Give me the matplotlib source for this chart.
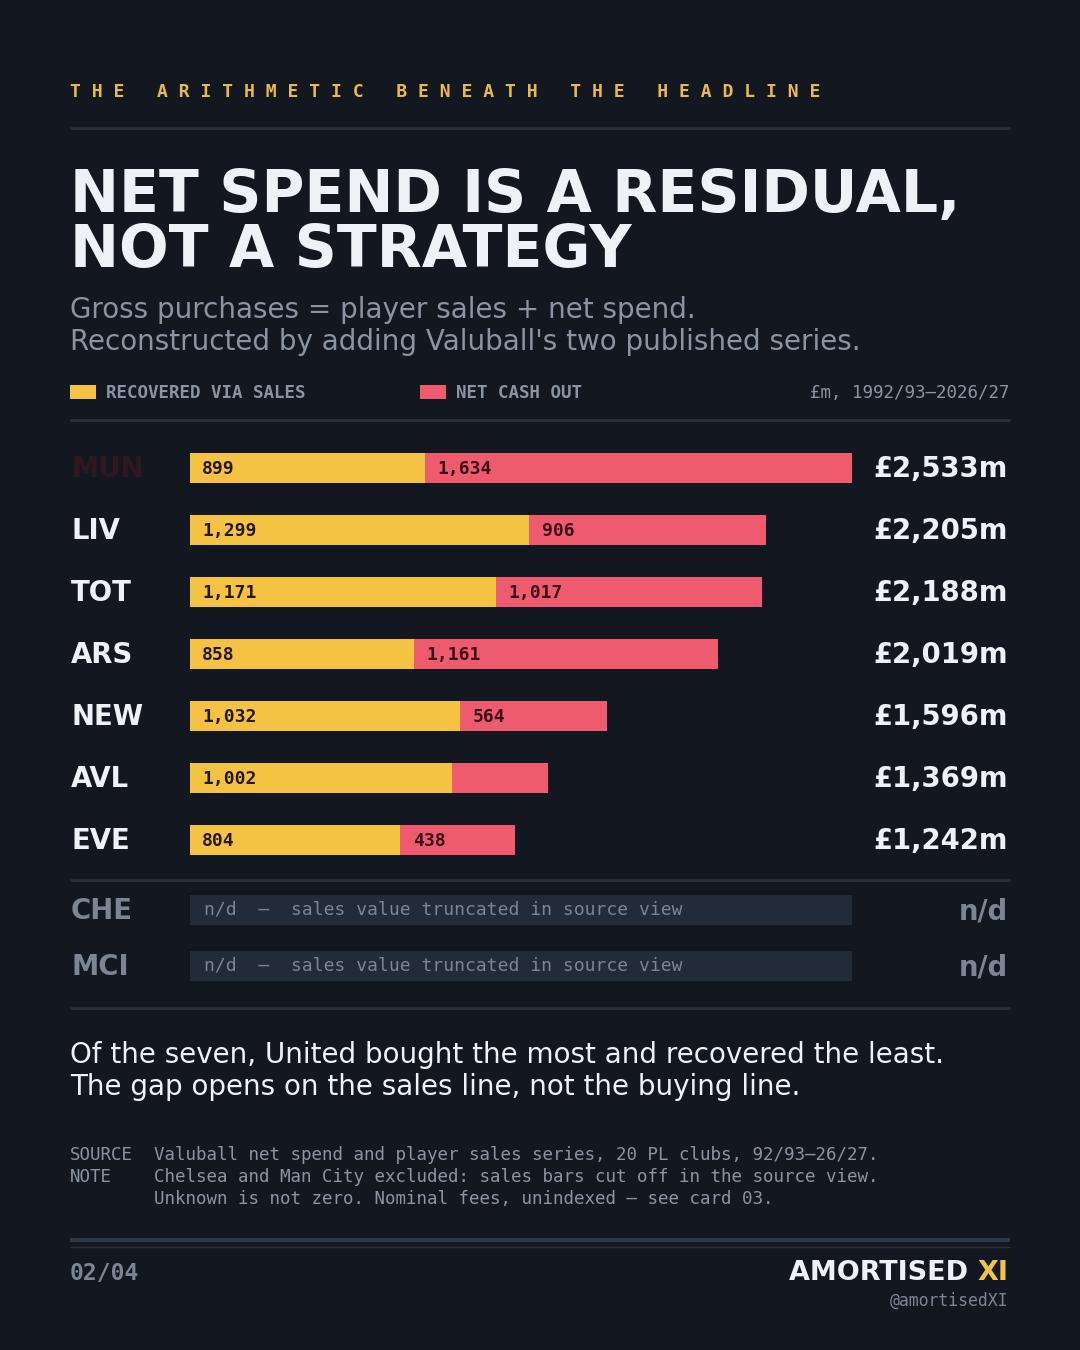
import matplotlib
matplotlib.use("Agg")
import matplotlib.pyplot as plt

# data (£m, 1992/93-2026/27)
clubs = ["MUN", "LIV", "TOT", "ARS", "NEW", "AVL", "EVE"]
sales = [899, 1299, 1171, 858, 1032, 1002, 804]
net_spend = [1634, 906, 1017, 1161, 564, 367, 438]
gross_labels = ["£2,533m", "£2,205m", "£2,188m", "£2,019m", "£1,596m", "£1,369m", "£1,242m"]
nd_clubs = ["CHE", "MCI"]

BG = "#131820"
YELLOW = "#f5c344"
RED = "#ee5a6e"
WHITE = "#eef1f5"
GREY = "#8a94a3"
DIM = "#7b8594"
RULE = "#28313d"
NDBAR = "#222b38"
INK = "#24180f"
MONO = "DejaVu Sans Mono"
SANS = "DejaVu Sans"

fig = plt.figure(figsize=(10.8, 13.5), dpi=100, facecolor=BG)
ax = fig.add_axes([0, 0, 1, 1])
ax.set_xlim(0, 1080)
ax.set_ylim(1350, 0)
ax.axis("off")
ax.set_zorder(2)


def pt(px):
    return px * 72 / 100


# kicker
ax.text(70, 97, " ".join("THE ARITHMETIC BENEATH THE HEADLINE"), family=MONO,
        weight="bold", fontsize=pt(18), color="#e9b94c", va="baseline")
ax.plot([70, 1010], [128, 128], color=RULE, lw=2, solid_capstyle="butt")

# title
ax.text(70, 212, "NET SPEND IS A RESIDUAL,", family=SANS, weight="bold",
        fontsize=pt(58.5), color=WHITE, va="baseline")
ax.text(70, 267, "NOT A STRATEGY", family=SANS, weight="bold",
        fontsize=pt(58.5), color=WHITE, va="baseline")
ax.text(70, 318, "Gross purchases = player sales + net spend.", family=SANS,
        fontsize=pt(27.8), color=GREY, va="baseline")
ax.text(70, 350, "Reconstructed by adding Valuball's two published series.",
        family=SANS, fontsize=pt(27.8), color=GREY, va="baseline")

# legend
ax.add_patch(plt.Rectangle((70, 385), 26, 14, color=YELLOW, lw=0))
ax.text(106, 398, "RECOVERED VIA SALES", family=MONO, weight="bold",
        fontsize=pt(17.5), color=GREY, va="baseline")
ax.add_patch(plt.Rectangle((420, 385), 26, 14, color=RED, lw=0))
ax.text(456, 398, "NET CASH OUT", family=MONO, weight="bold",
        fontsize=pt(17.5), color=GREY, va="baseline")
ax.text(1009, 398, "£m, 1992/93–2026/27", family=MONO, fontsize=pt(17.5),
        color=GREY, va="baseline", ha="right")
ax.plot([70, 1010], [420, 420], color=RULE, lw=2, solid_capstyle="butt")

# bars
row_y = [468 + 62 * i for i in range(len(clubs))]
nd_y = [910, 966]
gross = [s + n for s, n in zip(sales, net_spend)]

bx = fig.add_axes([190 / 1080, 0, (852 - 190) / 1080, 1])
bx.set_xlim(0, max(gross))
bx.set_ylim(1350, 0)
bx.axis("off")
bx.set_zorder(1)

bx.barh(row_y, sales, height=30, color=YELLOW, lw=0)
bx.barh(row_y, net_spend, left=sales, height=30, color=RED, lw=0)
bx.barh(nd_y, [max(gross)] * len(nd_y), height=30, color=NDBAR, lw=0)

for i, club in enumerate(clubs):
    y = row_y[i]
    bx.annotate(f"{sales[i]:,}", (0, y - 1.5), xytext=(pt(12), 0),
                textcoords="offset points", family=MONO, weight="bold",
                fontsize=pt(18), color=INK, va="center_baseline")
    if net_spend[i] >= 400:
        bx.annotate(f"{net_spend[i]:,}", (sales[i], y - 1.5), xytext=(pt(12.5), 0),
                    textcoords="offset points", family=MONO, weight="bold",
                    fontsize=pt(18), color="#3a1018", va="center_baseline")
    lab_col = "#311820" if i == 0 else WHITE
    ax.text(71, y + 9, club, family=SANS, weight="bold", fontsize=pt(27.5),
            color=lab_col, va="baseline")
    ax.text(1008, y + 9, gross_labels[i], family=SANS, weight="bold",
            fontsize=pt(27.5), color=WHITE, va="baseline", ha="right")

ax.plot([70, 1010], [880, 880], color=RULE, lw=2, solid_capstyle="butt")
for club, y in zip(nd_clubs, nd_y):
    ax.text(71, y + 9, club, family=SANS, weight="bold", fontsize=pt(27.5),
            color=DIM, va="baseline")
    ax.text(204, y + 5, "n/d  —  sales value truncated in source view",
            family=MONO, fontsize=pt(18), color=DIM, va="baseline")
    ax.text(1008, y + 9, "n/d", family=SANS, weight="bold", fontsize=pt(27.5),
            color=DIM, va="baseline", ha="right")
ax.plot([70, 1010], [1008, 1008], color=RULE, lw=2, solid_capstyle="butt")

# takeaway
ax.text(70, 1063, "Of the seven, United bought the most and recovered the least.",
        family=SANS, fontsize=pt(27.8), color=WHITE, va="baseline")
ax.text(70, 1095, "The gap opens on the sales line, not the buying line.",
        family=SANS, fontsize=pt(27.8), color=WHITE, va="baseline")

# source notes
notes = [
    ("SOURCE", "Valuball net spend and player sales series, 20 PL clubs, 92/93–26/27."),
    ("NOTE", "Chelsea and Man City excluded: sales bars cut off in the source view."),
    ("", "Unknown is not zero. Nominal fees, unindexed — see card 03."),
]
for j, (k, v) in enumerate(notes):
    yb = 1160 + 22 * j
    ax.text(70, yb, k, family=MONO, fontsize=pt(17.5), color=GREY, va="baseline")
    ax.text(154, yb, v, family=MONO, fontsize=pt(17.5), color=GREY, va="baseline")

# footer
ax.plot([70, 1010], [1240, 1240], color="#2e3846", lw=3, solid_capstyle="butt")
ax.plot([70, 1010], [1247, 1247], color=RULE, lw=1, solid_capstyle="butt")
ax.text(70, 1280, "02/04", family=MONO, weight="bold", fontsize=pt(23),
        color=DIM, va="baseline")
xi = ax.text(1008, 1280, "XI", family=SANS, weight="bold", fontsize=pt(27),
             color=YELLOW, va="baseline", ha="right")
ax.annotate("AMORTISED ", xy=(0, 0), xycoords=xi, ha="right", va="bottom",
            family=SANS, weight="bold", fontsize=pt(27), color=WHITE)
ax.text(1008, 1306, "@amortisedXI", family=MONO, fontsize=pt(16.5),
        color=DIM, va="baseline", ha="right")

fig.savefig("out.png", dpi=100, facecolor=BG)
